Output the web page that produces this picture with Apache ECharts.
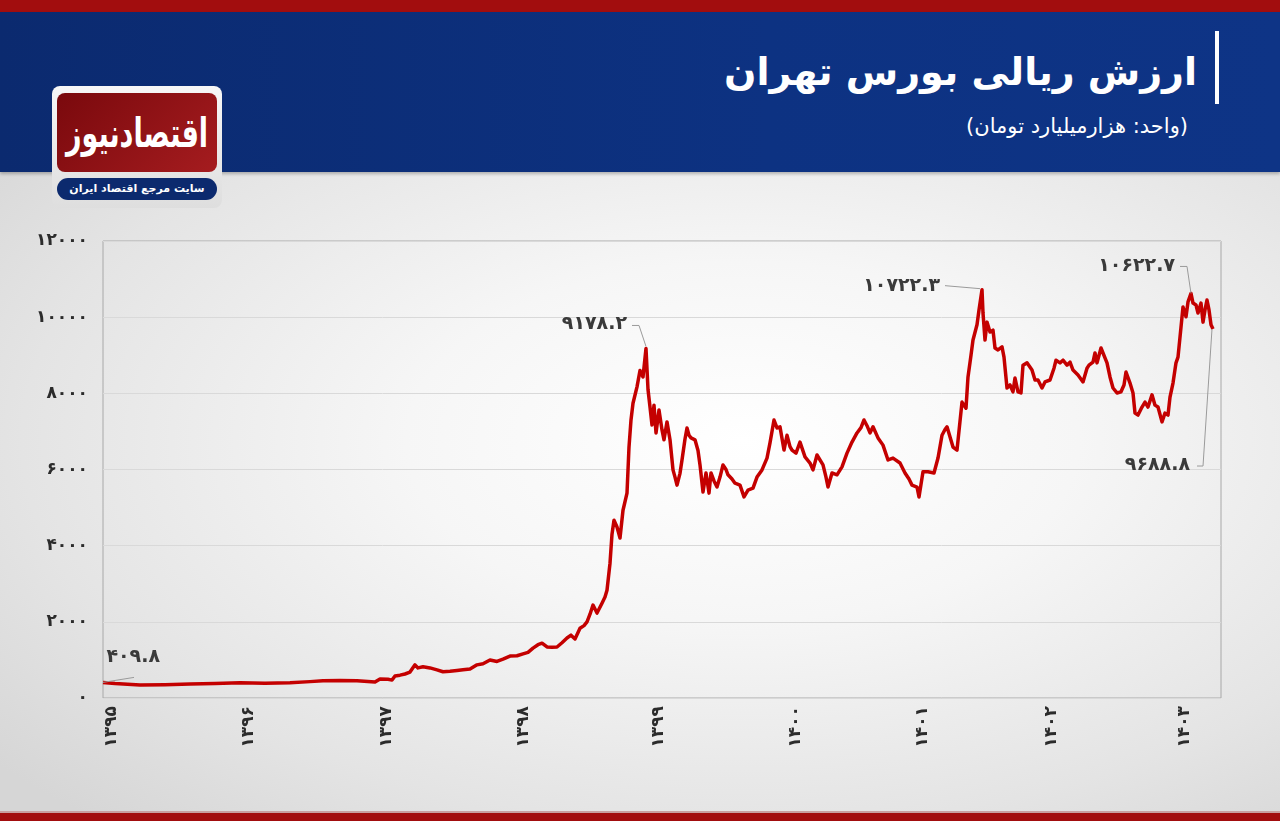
<!DOCTYPE html>
<html><head><meta charset="utf-8">
<script src="https://cdn.jsdelivr.net/npm/echarts@6/dist/echarts.min.js"></script>
<style>
html,body{margin:0;padding:0;width:1280px;height:821px;overflow:hidden;font-family:"DejaVu Sans",sans-serif;}
.abs{position:absolute;}
</style></head>
<body>
<div class="abs" style="left:0;top:172px;width:1280px;height:641px;background:radial-gradient(ellipse 75% 80% at 58% 42%,#ffffff 0%,#f6f6f6 35%,#e4e4e4 75%,#d6d6d6 100%);"></div>
<div class="abs" style="left:0;top:0;width:1280px;height:12px;background:#a20d0e;"></div>
<div class="abs" style="left:0;top:12px;width:1280px;height:160px;background:linear-gradient(90deg,#0b2a6f,#0d3282 60%,#0e3486);box-shadow:0 2px 3px rgba(0,0,0,0.25);"></div>
<div class="abs" style="left:0;top:811px;width:1280px;height:2px;background:#c8a0a0;"></div>
<div class="abs" style="left:0;top:813px;width:1280px;height:8px;background:#a20d0e;"></div>
<div class="abs" style="left:1215px;top:31px;width:4px;height:73px;background:#fff;"></div>
<div class="abs" style="right:83px;top:50px;color:#fff;font-size:38px;font-weight:bold;direction:rtl;white-space:nowrap;line-height:1.2;">ارزش ریالی بورس تهران</div>
<div class="abs" style="right:92px;top:114px;color:#fff;font-size:21px;direction:rtl;white-space:nowrap;">(واحد: هزارمیلیارد تومان)</div>
<div class="abs" style="left:52px;top:86px;width:170px;height:122px;border-radius:8px;background:linear-gradient(#f7f7f7,#dedede);"></div>
<div class="abs" style="left:57px;top:93px;width:160px;height:79px;border-radius:8px;background:linear-gradient(135deg,#7a090d,#a51c1f);overflow:hidden;"><div style="color:#fff;font-size:27px;font-weight:bold;text-align:center;line-height:79px;direction:rtl;transform:scaleY(1.5);">اقتصادنیوز</div></div>
<div class="abs" style="left:57px;top:178px;width:160px;height:22px;border-radius:11px;background:#0c2a6e;color:#fff;font-size:11px;font-weight:bold;text-align:center;line-height:22px;direction:rtl;">سایت مرجع اقتصاد ایران</div>
<div id="chart" class="abs" style="left:0;top:0;width:1280px;height:821px;"></div>
<script>
// trading-day index (scaled) and value (thousand billion toman)
const dayIdx = [0,12,37,62,87,112,137,162,187,207,220,237,254,272,277,285,289,292,297,302,307,312,315,320,327,334,340,347,354,360,367,374,380,387,394,400,407,414,420,425,430,435,439,444,449,454,459,464,468,472,477,481,484,487,490,494,499,502,504,507,509,511,514,517,520,524,526,528,530,534,537,540,543,545,547,549,551,553,556,559,561,564,567,570,572,574,577,579,582,584,586,588,592,595,597,600,603,606,608,611,614,617,620,623,625,629,632,637,641,645,650,654,659,664,667,671,674,677,681,684,687,689,693,697,702,707,710,714,720,723,725,729,734,739,744,749,754,758,761,764,767,770,775,780,785,790,797,802,806,809,814,816,820,825,831,835,839,842,844,846,850,854,859,863,865,868,870,874,876,879,880,882,884,887,890,892,895,899,901,904,907,910,912,915,918,920,924,929,932,935,939,942,947,951,953,957,960,964,967,970,975,980,984,986,990,992,994,998,1000,1004,1007,1010,1014,1018,1021,1023,1027,1030,1032,1035,1039,1042,1045,1049,1052,1055,1059,1062,1065,1067,1070,1073,1075,1078,1080,1083,1085,1088,1090,1093,1095,1098,1100,1102,1104,1106,1108,1110];
const values = [409.8,380,340,350,370,380,400,390,400,430,450,460,450,420,500,490,470,580,600,630,680,870,790,820,790,740,690,700,720,740,760,870,900,1000,960,1020,1100,1110,1160,1200,1310,1400,1440,1340,1330,1340,1450,1575,1650,1550,1830,1900,2000,2200,2440,2230,2490,2650,2830,3540,4300,4670,4490,4200,4930,5380,6590,7300,7740,8170,8600,8430,9178.2,8100,7640,7170,7690,6960,7560,7040,6780,7250,6780,5990,5800,5590,5900,6250,6800,7090,6900,6830,6780,6500,6120,5410,5910,5380,5910,5700,5540,5800,6120,6000,5860,5750,5640,5590,5280,5460,5510,5800,5990,6300,6700,7300,7090,7120,6510,6900,6600,6510,6430,6720,6330,6170,5990,6380,6120,5800,5540,5910,5860,6070,6430,6720,6960,7100,7300,7150,6960,7120,6830,6640,6250,6300,6170,5910,5750,5590,5540,5280,5940,5940,5910,6300,6900,7050,7120,7090,6590,6510,7770,7610,8430,9000,9400,9800,10190,10722.3,10110,9400,9870,9610,9660,9190,9140,9220,8950,8140,8220,8040,8400,8040,8010,8740,8800,8610,8350,8350,8140,8300,8350,8660,8870,8800,8870,8740,8820,8610,8480,8300,8660,8740,8820,9060,8800,9190,9140,8800,8430,8140,8010,8040,8220,8560,8270,8010,7480,7430,7640,7770,7640,7960,7690,7640,7250,7480,7430,7900,8270,8800,8950,9740,10270,10010,10400,10622.7,10370,10320,10110,10370,9870,10190,10450,10190,9800,9688.8];
const yearLabels = ['1395','1396','1397','1398','1399','1400','1401','1402','1403'];
const yearPos = [9,146,284,421,556,693,820,949,1082];
const annDays = [0,543,879,1088,1110];
const annValues = [409.8,9178.2,10722.3,10622.7,9688.8];

const toFa = s => String(s).replace(/[0-9]/g, d => '۰۱۲۳۴۵۶۷۸۹'[+d]);
// annotation styling: text anchor offset (right edge) and leader polyline offsets
const annStyle = [
  {tx: 57, ty: -25, pts: [[0,0],[31,-5]]},
  {tx: -19, ty: -24, pts: [[-14,-23],[-7,-23],[0,-2]]},
  {tx: -42, ty: -4, pts: [[-37,-4],[-2,-1]]},
  {tx: -16, ty: -27, pts: [[-11,-27],[-4,-27],[0,0]]},
  {tx: -23, ty: 136, pts: [[-16,137],[-10,137],[-1,0]]}
];

const chart = echarts.init(document.getElementById('chart'), null, {renderer:'canvas'});
const fontFam = '"DejaVu Sans", sans-serif';
chart.setOption({
  backgroundColor: 'transparent',
  animation: false,
  grid: {left:103, right:59, top:241, bottom:123, show:true, borderColor:'#a8a8a8', borderWidth:1, backgroundColor:'transparent'},
  xAxis: {
    type:'value', min:0, max:1118,
    axisLine:{show:false}, axisTick:{show:false}, splitLine:{show:false},
    axisLabel:{
      customValues: yearPos, rotate:90, margin:8,
      fontFamily: fontFam, fontWeight:'bold', fontSize:17, color:'#2b2b2b',
      formatter: v => { const i = yearPos.indexOf(v); return i >= 0 ? toFa(yearLabels[i]) : ''; }
    }
  },
  yAxis: {
    type:'value', min:0, max:12000, interval:2000,
    axisLine:{show:false}, axisTick:{show:false},
    splitLine:{lineStyle:{color:'#d9d9d9', width:1}},
    axisLabel:{margin:15, fontFamily: fontFam, fontWeight:'bold', fontSize:17, color:'#2b2b2b', formatter: v => toFa(v)}
  },
  series: [{
    type:'line', showSymbol:false, symbol:'none',
    data: dayIdx.map((d,i) => [d, values[i]]),
    lineStyle:{color:'#c40000', width:3.5, join:'round'},
    z: 5
  }]
});

const g = [];
annDays.forEach((d,i) => {
  const p = chart.convertToPixel({xAxisIndex:0, yAxisIndex:0}, [d, annValues[i]]);
  const s = annStyle[i];
  g.push({type:'polyline', silent:true, z:10,
    shape:{points: s.pts.map(q => [p[0]+q[0], p[1]+q[1]])},
    style:{stroke:'#9a9a9a', lineWidth:1, fill:null}});
  g.push({type:'text', silent:true, z:11, x:p[0]+s.tx, y:p[1]+s.ty,
    style:{text: toFa(annValues[i].toFixed(1)), fill:'#3a3a3a', font:'bold 19px "DejaVu Sans", sans-serif', align:'right', verticalAlign:'middle'}});
});
chart.setOption({graphic: g});
</script>
</body></html>
